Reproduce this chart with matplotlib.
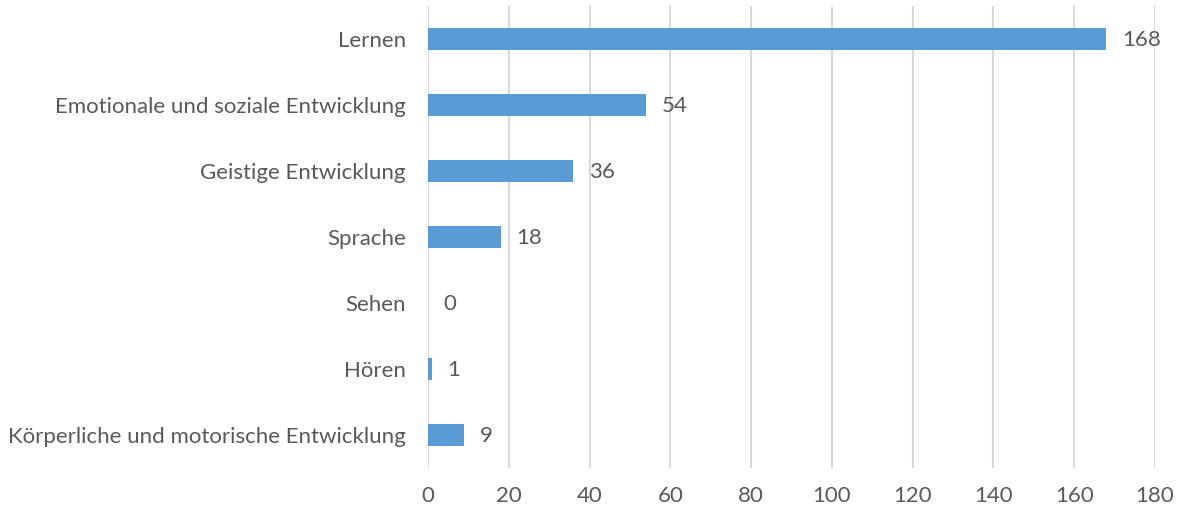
import matplotlib
matplotlib.use('Agg')
import matplotlib.pyplot as plt

categories = ['Lernen', 'Emotionale und soziale Entwicklung', 'Geistige Entwicklung',
              'Sprache', 'Sehen', 'Hören', 'Körperliche und motorische Entwicklung']
values = [168, 54, 36, 18, 0, 1, 9]
xticks = [0, 20, 40, 60, 80, 100, 120, 140, 160, 180]

plt.rcParams['font.family'] = ['Lato', 'DejaVu Sans']
text_color = '#595959'

fig = plt.figure(figsize=(11.83, 5.13), dpi=100)
ax = fig.add_axes([0.3618, 0.0877, 0.9763 - 0.3618, 0.9883 - 0.0877])

ypos = list(range(len(categories)))[::-1]
ax.barh(ypos, values, height=0.33, color='#5B9BD5', zorder=3)
for y, v in zip(ypos, values):
    ax.annotate(str(v), (v, y), xytext=(11, -1), textcoords='offset points',
                va='center', ha='left', fontsize=16, color=text_color)

ax.set_xlim(0, 180)
ax.set_ylim(-0.5, len(categories) - 0.5)
ax.set_xticks(xticks)
ax.set_yticks(ypos)
ax.set_yticklabels(categories)
ax.tick_params(axis='both', length=0, labelsize=16, labelcolor=text_color)
ax.tick_params(axis='x', pad=13)
ax.tick_params(axis='y', pad=16)
ax.grid(axis='x', color='#D9D9D9', linewidth=1.5, zorder=0)
for s in ax.spines.values():
    s.set_visible(False)

fig.savefig('out.png', dpi=100)
